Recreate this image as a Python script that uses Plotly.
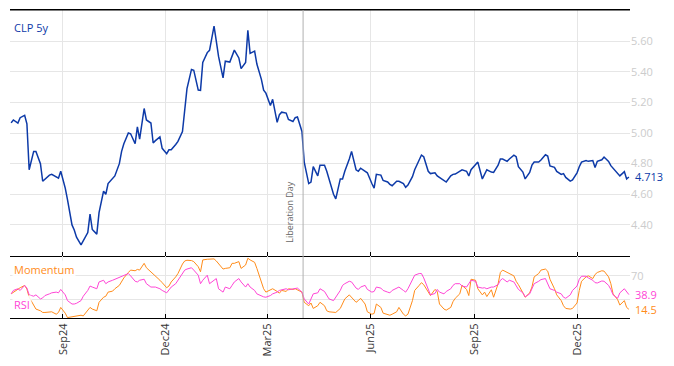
import pandas as pd
import plotly.graph_objects as go

# ---- data ----
start_date = "2024-07-17"
n_points = 197
dates = pd.bdate_range(start_date, periods=n_points * 2)[::2]

clp5y = [5.066, 5.085, 5.065, 5.10, 5.115, 5.06, 4.76, 4.88, 4.88, 4.80,
         4.685, 4.70, 4.725, 4.73, 4.71, 4.705, 4.75, 4.64, 4.565, 4.40,
         4.367, 4.32, 4.27, 4.30, 4.35, 4.47, 4.37, 4.34, 4.48, 4.62,
         4.60, 4.67, 4.70, 4.72, 4.80, 4.88, 4.93, 5.00, 4.995, 4.93,
         5.04, 4.96, 5.16, 5.085, 5.065, 4.935, 4.95, 4.975, 4.90, 4.865,
         4.89, 4.89, 4.925, 4.945, 5.01, 5.17, 5.29, 5.415, 5.41, 5.28,
         5.278, 5.46, 5.525, 5.54, 5.698, 5.60, 5.50, 5.36, 5.469, 5.463,
         5.51, 5.541, 5.49, 5.42, 5.46, 5.67, 5.52, 5.535, 5.45, 5.35,
         5.28, 5.26, 5.18, 5.22, 5.07, 5.12, 5.136, 5.13, 5.088, 5.075,
         5.10, 5.105, 5.01, 4.81, 4.67, 4.68, 4.78, 4.72, 4.79, 4.79,
         4.75, 4.70, 4.60, 4.57, 4.70, 4.70, 4.75, 4.83, 4.88, 4.76,
         4.75, 4.77, 4.75, 4.74, 4.67, 4.64, 4.73, 4.725, 4.69, 4.68,
         4.665, 4.656, 4.685, 4.685, 4.67, 4.645, 4.66, 4.715, 4.76, 4.825,
         4.856, 4.845, 4.75, 4.735, 4.74, 4.72, 4.71, 4.688, 4.68, 4.72,
         4.73, 4.732, 4.75, 4.76, 4.75, 4.72, 4.76, 4.79, 4.81, 4.70,
         4.73, 4.76, 4.745, 4.743, 4.79, 4.83, 4.83, 4.815, 4.83, 4.855,
         4.845, 4.78, 4.745, 4.70, 4.743, 4.79, 4.81, 4.81, 4.824, 4.858,
         4.85, 4.785, 4.776, 4.749, 4.73, 4.735, 4.71, 4.686, 4.693, 4.74,
         4.78, 4.81, 4.82, 4.815, 4.82, 4.775, 4.815, 4.825, 4.843, 4.815,
         4.787, 4.77, 4.73, 4.72, 4.748, 4.70, 4.713]

momentum = [40.1, 43, 48.6, 50.3, 54, 48, 34.5, 20.4, 14.8, 12,
            9.2, 9.2, 10.3, 10.3, 6.3, 9.2, 17.6, 8, 0.7, 1.8,
            2.4, 2.4, 4.6, 3.5, 13.1, 17.6, 14.8, 12, 26.1, 34.5,
            36.2, 43, 44.6, 48.6, 54.2, 59.9, 66.6, 75.6, 79.6, 78.5,
            80.7, 79.6, 90.8, 83.5, 76.8, 73.9, 70, 62.7, 58.7, 50.3,
            53.1, 59.9, 68.3, 73.9, 89.7, 94.8, 95.9, 95.4, 93.7, 85.2,
            76.8, 96.5, 97.6, 97.6, 98.2, 94.8, 90.8, 81.3, 82.4, 83.5,
            90.8, 90.8, 93.7, 82.4, 88, 99.3, 96.5, 92.5, 82.4, 57,
            48.6, 43, 47.5, 48.6, 44.1, 41.3, 45.8, 44.1, 48.6, 47.5,
            48.6, 46.9, 43, 26.1, 20.4, 24.9, 15.9, 20.4, 26.1, 20.4,
            12, 10.3, 9.2, 9.2, 15.9, 23.2, 31.7, 38.4, 34.5, 26.1,
            28.9, 32.8, 23.2, 10.3, 6.3, 7.5, 23.2, 17.6, 8, 5.2,
            4.6, 6.3, 10.3, 17.6, 6.3, 3.5, 6.3, 28.9, 45.8, 54.2,
            58.7, 55.4, 41.8, 37.3, 47.5, 44.1, 23.2, 14.8, 13.1, 17.6,
            27.2, 32.8, 40.1, 54.2, 47.5, 37.3, 64.4, 62.7, 48.6, 38.4,
            43, 35.6, 46.9, 34.5, 57, 75.6, 79.6, 75.6, 73.4, 70,
            61, 55.4, 41.8, 34.5, 41.8, 51.4, 68.3, 73.9, 79.6, 81.3,
            77.9, 64.4, 48.6, 38.4, 28.9, 20.4, 15.9, 14.8, 15.9, 24.9,
            45.8, 61, 68.3, 70, 65.5, 72.3, 75.6, 78.5, 77.9, 68.3,
            57, 40.1, 30.6, 21.5, 28.9, 17.6, 14.5]

rsi = [40.1, 45.8, 48.6, 45.8, 54.2, 49.7, 38.4, 36.2, 38.4, 31.7,
       33.4, 37.3, 40.1, 41.8, 43, 41.8, 47.5, 38.4, 28.9, 23.2,
       23.2, 24.4, 28.9, 36.2, 45.8, 53.1, 51.4, 48.6, 59.9, 62.7,
       57, 59.9, 62.7, 64.4, 66.6, 68.3, 70, 73.9, 70, 61,
       59.9, 62.7, 64.4, 57, 51.4, 51.4, 51.4, 48.6, 45.8, 41.8,
       45.8, 51.4, 57, 62.7, 73.9, 79.6, 81.3, 83.5, 79.6, 71.1,
       57, 62.7, 71.1, 57, 62.7, 65.5, 48.6, 43, 51.4, 48.6,
       54.2, 59.9, 65.5, 59.9, 51.4, 57, 51.4, 45.8, 40.1, 36.2,
       35.1, 34.5, 37.3, 40.1, 43, 45.8, 46.9, 48.6, 46.9, 48.6,
       48.6, 49.7, 43, 31.7, 23.2, 32.8, 40.1, 41.8, 48.6, 44.1,
       37.3, 31.7, 28.9, 34.5, 45.8, 54.2, 57, 61, 59.9, 49.7,
       47.5, 51.4, 54.2, 47.5, 43, 44.1, 51.4, 49.7, 45.8, 43,
       41.8, 45.8, 49.7, 51.4, 45.8, 43, 48.6, 62.7, 71.1, 73.9,
       73.9, 66.6, 45.8, 38.4, 40.7, 47.5, 43, 40.1, 44.1, 48.6,
       54.2, 57, 57, 53.1, 51.4, 57, 62.7, 61, 51.4, 49.7,
       50.3, 48.6, 51.4, 51.4, 55.4, 62.7, 65.5, 59.9, 62.7, 59.9,
       53.1, 47.5, 41.8, 35.1, 40.1, 48.6, 57, 61, 63.8, 65.5,
       55.4, 48.6, 45.8, 43, 40.1, 34.5, 32.8, 38.4, 45.8, 53.1,
       64.4, 69.4, 69.4, 66.6, 62.7, 58.7, 58.2, 61.5, 61, 54.2,
       47.5, 38.4, 32.8, 41.8, 48.6, 44.1, 38.9]

price_ticks = [4.40, 4.60, 4.80, 5.00, 5.20, 5.40, 5.60]
osc_ticks = [30, 70]
osc_tick_text = ["", "70"]
event_date = "2025-04-02"
event_label = "Liberation Day"
x_range = ["2024-07-16", "2026-01-17"]

# ---- styling ----
BLUE = "#0d3aa8"
ORANGE = "#ff8c1a"
MAGENTA = "#ff45d6"
GRID = "#e6e6e6"
TICKGREY = "#cccccc"
split = 62 / 308

fig = go.Figure()
fig.add_trace(go.Scatter(x=dates, y=clp5y, mode="lines", line=dict(color=BLUE, width=1.5),
                         xaxis="x", yaxis="y", showlegend=False, hoverinfo="skip"))
fig.add_trace(go.Scatter(x=dates, y=momentum, mode="lines", line=dict(color=ORANGE, width=1),
                         xaxis="x2", yaxis="y2", showlegend=False, hoverinfo="skip"))
fig.add_trace(go.Scatter(x=dates, y=rsi, mode="lines", line=dict(color=MAGENTA, width=1),
                         xaxis="x2", yaxis="y2", showlegend=False, hoverinfo="skip"))

xcommon = dict(type="date", range=x_range, dtick="M3", tick0="2024-09-01",
               showgrid=True, gridcolor=GRID, gridwidth=1, ticks="inside", ticklen=4,
               tickcolor="black", showline=True, linecolor="black", linewidth=1,
               zeroline=False)

# the page body has an 8px default margin, so the figure is sized/margined to compensate
fig.update_layout(
    width=666, height=359,
    margin=dict(l=2, r=44, t=2, b=49, autoexpand=False),
    paper_bgcolor="white", plot_bgcolor="white",
    font=dict(family="Open Sans, sans-serif"),
    xaxis=dict(**xcommon, anchor="y", domain=[0, 1], showticklabels=False, mirror=True),
    xaxis2=dict(**xcommon, anchor="y2", domain=[0, 1], matches="x",
                tickformat="%b%y", tickangle=-90, tickfont=dict(size=11, color="#333333")),
    yaxis=dict(domain=[split, 1], side="right", anchor="x", range=[4.197, 5.803],
               tickvals=price_ticks, tickformat=".2f", showgrid=True, gridcolor=GRID,
               tickfont=dict(size=11, color=TICKGREY), zeroline=False, showline=False),
    yaxis2=dict(domain=[0, split], side="right", anchor="x2", range=[0, 103],
                tickvals=osc_ticks, ticktext=osc_tick_text, showgrid=True, gridcolor=GRID,
                tickfont=dict(size=11, color=TICKGREY), zeroline=False, showline=False),
)

# top border and event line
fig.add_shape(type="line", xref="paper", yref="paper", x0=0, x1=1, y0=1, y1=1,
              line=dict(color="black", width=1.2))
fig.add_shape(type="line", xref="x", yref="paper", x0=event_date, x1=event_date, y0=0, y1=1,
              line=dict(color="#b0b0b0", width=1))

annotations = [
    dict(text=event_label, x=event_date, xref="x", y=split + 0.037, yref="paper",
         xanchor="right", yanchor="bottom", textangle=-90, xshift=-5, showarrow=False,
         font=dict(size=9, color="#666666")),
    dict(text="CLP 5y", x=0, xref="paper", y=1, yref="paper", xanchor="left", yanchor="top",
         xshift=2, yshift=-8, showarrow=False, font=dict(size=11, color=BLUE)),
    dict(text="Momentum", x=0, xref="paper", y=split, yref="paper", xanchor="left", yanchor="top",
         xshift=2, yshift=-4, showarrow=False, bgcolor="rgba(255,255,255,0.85)",
         font=dict(size=11, color=ORANGE)),
    dict(text="RSI", x=0, xref="paper", y=0, yref="paper", xanchor="left", yanchor="bottom",
         xshift=2, yshift=4, showarrow=False, bgcolor="rgba(255,255,255,0.85)",
         font=dict(size=11, color=MAGENTA)),
    dict(text=f"{clp5y[-1]:.3f}", x=1, xref="paper", y=clp5y[-1], yref="y", xanchor="left",
         yanchor="middle", xshift=3, showarrow=False, font=dict(size=11, color=BLUE)),
    dict(text=f"{rsi[-1]:.1f}", x=1, xref="paper", y=rsi[-1], yref="y2", xanchor="left",
         yanchor="middle", xshift=3, showarrow=False, font=dict(size=11, color=MAGENTA)),
    dict(text=f"{momentum[-1]:.1f}", x=1, xref="paper", y=momentum[-1], yref="y2", xanchor="left",
         yanchor="middle", xshift=3, showarrow=False, font=dict(size=11, color=ORANGE)),
]
fig.update_layout(annotations=annotations)

fig.write_html("out.html")
